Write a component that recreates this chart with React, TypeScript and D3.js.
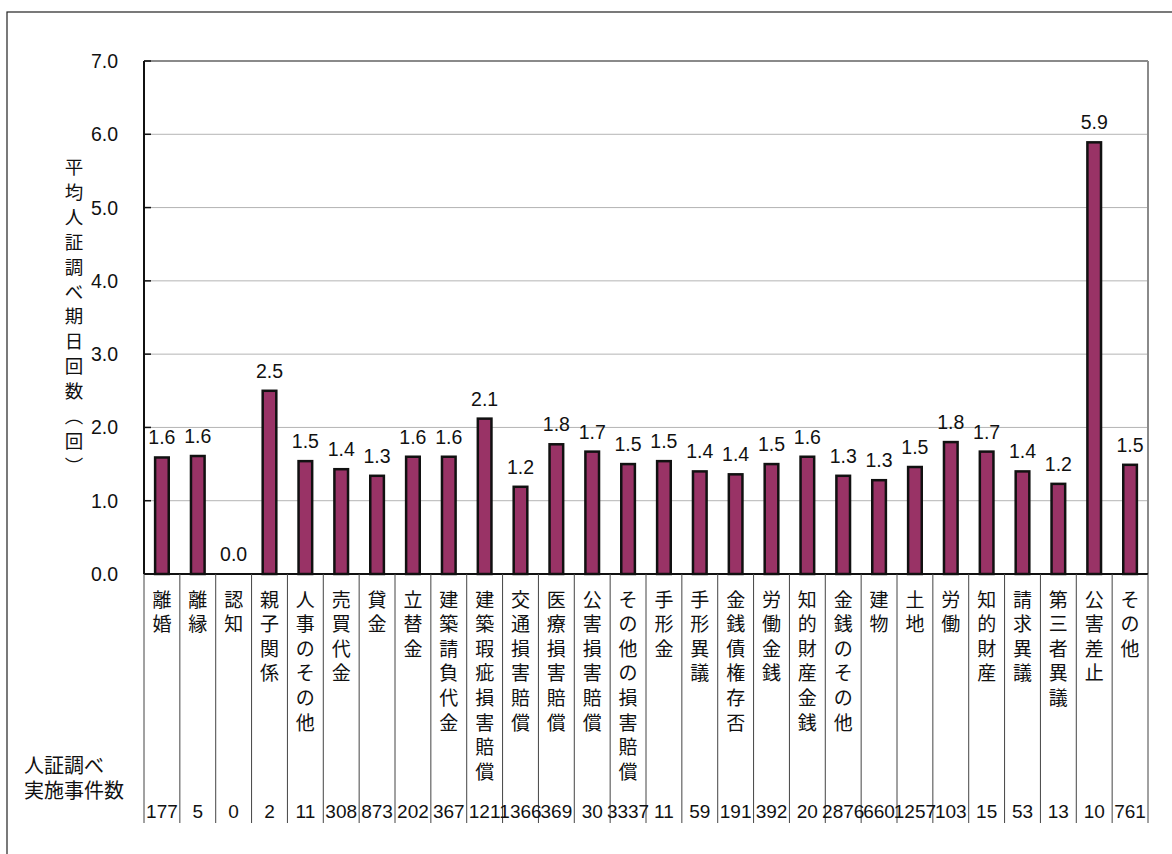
import React from "react";
import * as d3 from "d3";

const categories = [
  "離婚", "離縁", "認知", "親子関係", "人事のその他", "売買代金", "貸金", "立替金",
  "建築請負代金", "建築瑕疵損害賠償", "交通損害賠償", "医療損害賠償", "公害損害賠償",
  "その他の損害賠償", "手形金", "手形異議", "金銭債権存否", "労働金銭", "知的財産金銭",
  "金銭のその他", "建物", "土地", "労働", "知的財産", "請求異議", "第三者異議", "公害差止", "その他",
];
const avgValues = [
  1.59, 1.61, 0, 2.5, 1.54, 1.43, 1.34, 1.6, 1.6, 2.12, 1.19, 1.77, 1.67, 1.5, 1.54, 1.4,
  1.36, 1.5, 1.6, 1.34, 1.28, 1.46, 1.8, 1.67, 1.4, 1.23, 5.89, 1.49,
];
const caseCounts = [
  177, 5, 0, 2, 11, 308, 873, 202, 367, 121, 1366, 369, 30, 3337, 11, 59, 191, 392, 20,
  2876, 660, 1257, 103, 15, 53, 13, 10, 761,
];
const yTicks = [0, 1, 2, 3, 4, 5, 6, 7];
const yTitle = "平均人証調べ期日回数︵回︶";
const rowTitle = ["人証調べ", "実施事件数"];

const W = 1172;
const H = 854;
const L = 144, R = 1148, T = 61, B = 574;
const divBottom = 823;
const numFont = "'Liberation Sans', Arial, sans-serif";
const cjkFont = "'Noto Sans CJK JP', sans-serif";

export default function App() {
  const x = d3.scaleBand<string>().domain(categories).range([L, R]).padding(0);
  const y = d3.scaleLinear().domain([0, 7]).range([B, T]);
  const bw = x.bandwidth();
  const barW = bw * 0.38;
  const bounds = categories.map((c) => x(c)!).concat([R]);

  return (
    <svg
      width={W}
      height={H}
      style={{ position: "absolute", left: 0, top: 0, background: "#fff" }}
    >
      <rect x={0} y={0} width={W} height={H} fill="#fff" />
      <rect x={7} y={12} width={1300} height={1000} fill="none" stroke="#222" strokeWidth={1.2} />

      {/* gridlines */}
      {yTicks.slice(1, -1).map((t) => (
        <line key={"g" + t} x1={L} x2={R} y1={y(t)} y2={y(t)} stroke="#b4b4b4" strokeWidth={1} />
      ))}
      {/* plot top & right border */}
      <line x1={L} x2={R} y1={y(7)} y2={y(7)} stroke="#8a8a8a" strokeWidth={2} />
      <line x1={R} x2={R} y1={T} y2={B} stroke="#8a8a8a" strokeWidth={2} />

      {/* bars */}
      {categories.map((c, i) => (
        <rect
          key={"b" + i}
          x={x(c)! + (bw - barW) / 2}
          y={y(avgValues[i])}
          width={barW}
          height={B - y(avgValues[i])}
          fill="#993366"
          stroke="#111"
          strokeWidth={2.5}
        />
      ))}
      {/* value labels */}
      {categories.map((c, i) => (
        <text
          key={"v" + i}
          x={x(c)! + bw / 2}
          y={y(avgValues[i]) - 13}
          textAnchor="middle"
          fontFamily={numFont}
          fontSize={19.5}
          fill="#111"
        >
          {avgValues[i].toFixed(1)}
        </text>
      ))}

      {/* y axis */}
      <line x1={L} x2={L} y1={T} y2={B} stroke="#111" strokeWidth={2} />
      {yTicks.map((t) => (
        <g key={"t" + t}>
          <line x1={L} x2={L + 7} y1={y(t)} y2={y(t)} stroke="#111" strokeWidth={1.5} />
          <text
            x={118}
            y={y(t) + 7}
            textAnchor="end"
            fontFamily={numFont}
            fontSize={19.5}
            fill="#111"
          >
            {t.toFixed(1)}
          </text>
        </g>
      ))}
      {/* x axis */}
      <line x1={L} x2={R} y1={B} y2={B} stroke="#111" strokeWidth={2} />

      {/* dividers */}
      {bounds.map((bx, i) => (
        <line key={"d" + i} x1={bx} x2={bx} y1={B} y2={divBottom} stroke="#444" strokeWidth={1} />
      ))}

      {/* category labels vertical */}
      {categories.map((c, i) =>
        Array.from(c).map((ch, j) => (
          <text
            key={"c" + i + "_" + j}
            x={x(c)! + bw / 2}
            y={598 + j * 24.6}
            textAnchor="middle"
            dominantBaseline="central"
            fontFamily={cjkFont}
            fontSize={19}
            fill="#111"
          >
            {ch}
          </text>
        ))
      )}

      {/* counts */}
      {categories.map((c, i) => (
        <text
          key={"n" + i}
          x={x(c)! + bw / 2}
          y={818}
          textAnchor="middle"
          fontFamily={numFont}
          fontSize={19}
          fill="#111"
        >
          {caseCounts[i]}
        </text>
      ))}

      {/* row title (two lines) */}
      <text x={24} y={773} fontFamily={cjkFont} fontSize={20} fill="#111">
        {rowTitle.map((s, i) => (
          <tspan key={"r" + i} x={24} dy={i === 0 ? 0 : 25}>
            {s}
          </tspan>
        ))}
      </text>

      {/* y title vertical */}
      {Array.from(yTitle).map((ch, j) => (
        <text
          key={"y" + j}
          x={74}
          y={166 + j * 24.9}
          textAnchor="middle"
          dominantBaseline="central"
          fontFamily={cjkFont}
          fontSize={18.5}
          fill="#111"
        >
          {ch}
        </text>
      ))}
    </svg>
  );
}
